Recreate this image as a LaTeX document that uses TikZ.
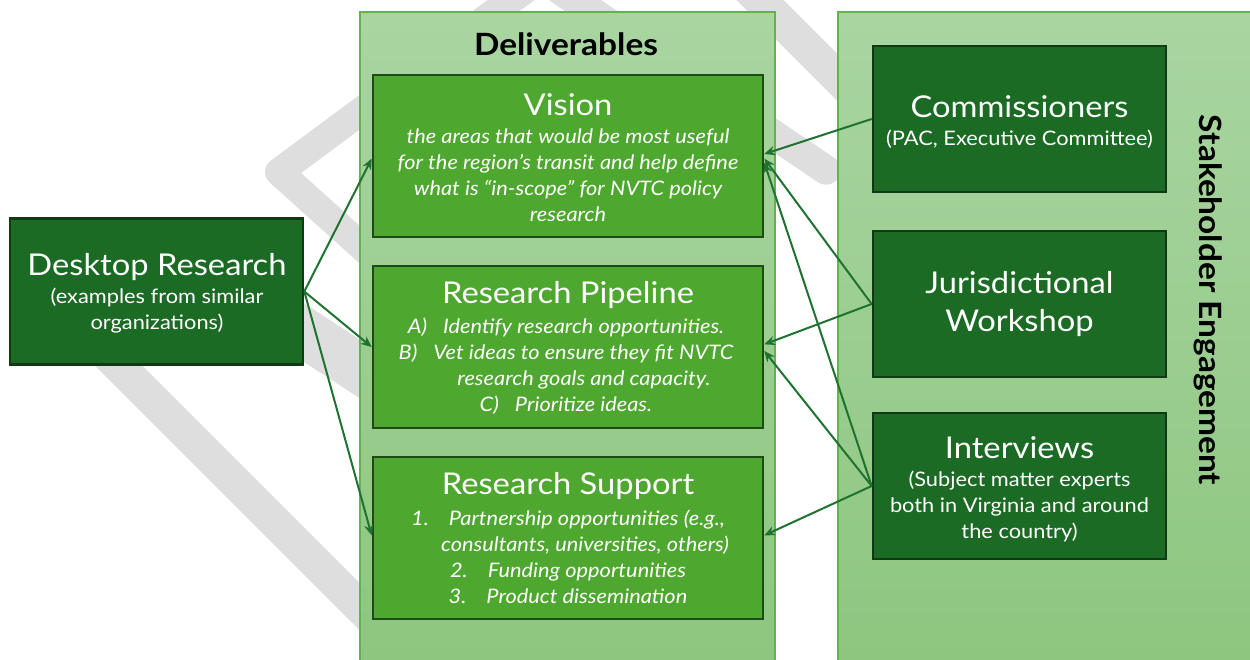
\documentclass[tikz,border=0pt]{standalone}
\usepackage{fontspec}
\setmainfont{Lato}[FakeStretch=1.09]
\usetikzlibrary{arrows.meta}
\definecolor{dkg}{HTML}{1B6B24}
\definecolor{dkb}{HTML}{0F3A13}
\definecolor{gnf}{HTML}{4EA72E}
\definecolor{gnb}{HTML}{1E4A17}
\definecolor{conttop}{HTML}{A9D5A1}
\definecolor{contbot}{HTML}{8DC67F}
\definecolor{contb}{HTML}{62B24F}
\definecolor{arrc}{HTML}{1F7230}
\definecolor{wmg}{HTML}{DEDEDE}
\tikzset{
 cont/.style={draw=contb, line width=1.1pt, top color=conttop, bottom color=contbot, inner sep=0pt},
 dbox/.style={draw=dkb, line width=2pt, fill=dkg, minimum width=219.75pt, minimum height=109.5pt, inner sep=0pt},
 gbox/.style={draw=gnb, line width=2pt, fill=gnf, minimum width=292.5pt, minimum height=121.5pt, inner sep=0pt},
 ttl/.style={text=white, font=\fontsize{22.5}{28.5}\selectfont, inner sep=0pt, align=center},
 subt/.style={text=white, font=\fontsize{15}{19.5}\selectfont, align=center, inner sep=0pt},
 itl/.style={text=white, font=\fontsize{15}{19.5}\selectfont\itshape, align=center, inner sep=0pt},
 hdr/.style={font=\bfseries\fontsize{23}{27}\selectfont, inner sep=0pt},
 arr/.style={draw=arrc, line width=1.5pt, -{Stealth[length=8pt,width=7pt]}},
 wm/.style={draw=wmg, line cap=round, line join=round},
}
\begin{document}
\begin{tikzpicture}[x=0.75pt,y=-0.75pt]
\useasboundingbox (0,0) rectangle (1250,660);
\clip (0,0) rectangle (1250,660);
% watermark
\draw[wm, line width=21pt] (538,-20) -- (279,172) -- (420,299);
\draw[wm, line width=22pt] (560,-10) -- (826,170);
\draw[wm, line width=25pt] (730,-30) -- (900,140);
\draw[wm, line width=37pt] (200,265) -- (420,408);
\draw[wm, line width=25pt] (60,307) -- (420,667);
% containers
\node[cont, minimum width=311.25pt, minimum height=493.5pt] (deliv) at (567.5,341) {};
\node[cont, minimum width=318pt, minimum height=493.5pt] (stake) at (1050,341) {};
\node[hdr] (delivT) at (566,44) {Deliverables};
\node[hdr, rotate=-90] (stakeT) at (1208,300) {Stakeholder Engagement};
% boxes
\node[dbox] (desk) at (156.5,291.5) {};
\node[gbox] (vis) at (568,156) {};
\node[gbox] (pip) at (568,347) {};
\node[gbox] (sup) at (568,538) {};
\node[dbox] (com) at (1019.5,119) {};
\node[dbox] (jur) at (1019.5,304) {};
\node[dbox] (int) at (1019.5,486) {};
% texts
\node[ttl] (deskT) at (157,267) {Desktop Research};
\node[subt] (deskS) at (157,311) {(examples from similar\\organizations)};
\node[ttl] (visT) at (568,105) {Vision};
\node[itl] (visS) at (568,175) {the areas that would be most useful\\for the region’s transit and help define\\what is “in-scope” for NVTC policy\\research};
\node[ttl] (pipT) at (568,295) {Research Pipeline};
\node[itl] (pipS) at (566,366) {A)\hspace{0.8em}Identify research opportunities.\\B)\hspace{0.8em}Vet ideas to ensure they fit NVTC\\\hspace*{1.8em}research goals and capacity.\\C)\hspace{0.8em}Prioritize ideas.};
\node[ttl] (supT) at (568,486) {Research Support};
\node[itl] (supS) at (568,557) {1.\hspace{1em}Partnership opportunities (e.g.,\\\hspace*{1.7em}consultants, universities, others)\\2.\hspace{1em}Funding opportunities\\3.\hspace{1em}Product dissemination};
\node[ttl] (comT) at (1019.5,107) {Commissioners};
\node[subt] (comS) at (1019.5,139) {(PAC, Executive Committee)};
\node[ttl] (jurT) at (1019.5,304) {Jurisdictional\\Workshop};
\node[ttl] (intT) at (1019.5,448) {Interviews};
\node[subt] (intS) at (1019.5,506) {(Subject matter experts\\both in Virginia and around\\the country)};
% arrows
\draw[arr] (desk.east) -- ([yshift=-2pt]vis.west);
\draw[arr] (desk.east) -- (pip.west);
\draw[arr] (desk.east) -- ([yshift=2pt]sup.west);
\draw[arr] (com.west) -- ([yshift=1.5pt]vis.east);
\draw[arr] (jur.west) -- ([yshift=-2pt]vis.east);
\draw[arr] (int.west) -- ([yshift=-5pt]vis.east);
\draw[arr] (jur.west) -- ([yshift=2pt]pip.east);
\draw[arr] (int.west) -- ([yshift=-3pt]pip.east);
\draw[arr] (int.west) -- ([yshift=2pt]sup.east);
\end{tikzpicture}
\end{document}
